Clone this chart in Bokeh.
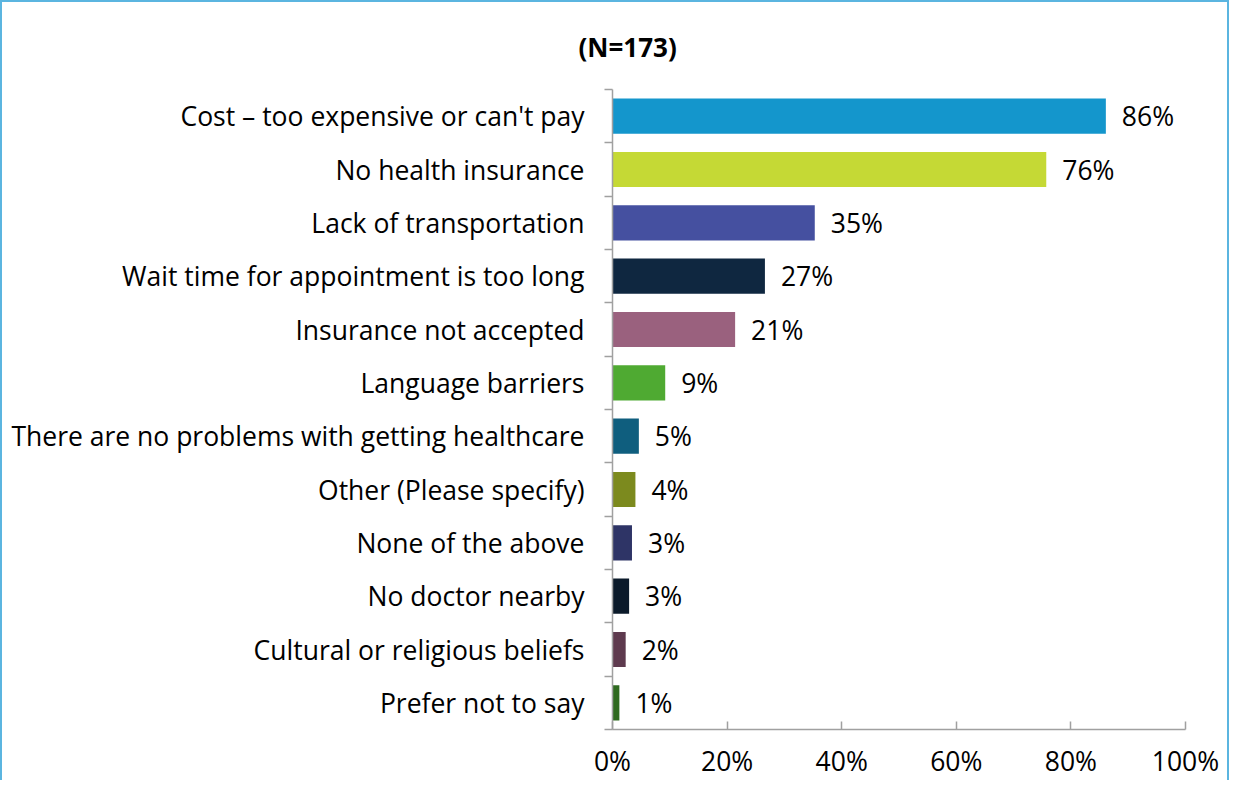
from bokeh.plotting import figure
from bokeh.models import Range1d, FixedTicker, PrintfTickFormatter, ColumnDataSource
from bokeh.core.properties import value
from bokeh.embed import file_html
from bokeh.resources import INLINE

categories = [
    "Cost \u2013 too expensive or can't pay",
    "No health insurance",
    "Lack of transportation",
    "Wait time for appointment is too long",
    "Insurance not accepted",
    "Language barriers",
    "There are no problems with getting healthcare",
    "Other (Please specify)",
    "None of the above",
    "No doctor nearby",
    "Cultural or religious beliefs",
    "Prefer not to say",
]
values = [86.1, 75.7, 35.3, 26.6, 21.4, 9.2, 4.6, 4.0, 3.4, 2.9, 2.3, 1.2]
labels = ["86%", "76%", "35%", "27%", "21%", "9%", "5%", "4%", "3%", "3%", "2%", "1%"]
colors = ["#1496CC", "#C5D935", "#4550A0", "#0F2740", "#9A617E", "#4FAA32",
          "#0F5E7E", "#7C8A1E", "#2E3466", "#0B1A2A", "#5E3A4E", "#2F6A20"]
x_ticks = [0, 20, 40, 60, 80, 100]
title_text = "(N=173)"

FONT = "Open Sans"
FS = "26.5px"
n = len(categories)
pos = list(range(n))

src = ColumnDataSource(dict(y=pos, v=values, lab=labels, c=colors))

p = figure(width=1229, height=780, output_backend="svg", toolbar_location=None,
           x_range=Range1d(0, 100), y_range=Range1d(n - 0.5, -0.5),
           min_border_left=610, min_border_right=46, min_border_top=87, min_border_bottom=53,
           title=title_text)
p.styles = {"border-left": "2px solid #5BB5E0", "border-top": "2px solid #5BB5E0",
            "border-right": "2px solid #5BB5E0"}
p.outline_line_color = None
p.grid.grid_line_color = None
p.background_fill_color = "white"
p.border_fill_color = "white"

p.title.text_font = FONT
p.title.text_font_size = "26px"
p.title.text_font_style = "bold"
p.title.text_color = "#000000"
p.title.align = "left"
p.title.vertical_align = "middle"
p.title.offset = -34
p.title.standoff = 48

p.hbar(y="y", left=0, right="v", height=0.66, fill_color="c", line_color=None, source=src)
p.text(x="v", y="y", text="lab", source=src, x_offset=16, text_baseline="middle",
       text_align="left", text_font=value(FONT), text_font_size=FS, text_color="#000000")

# y axis
ya = p.yaxis[0]
ya.ticker = FixedTicker(ticks=pos, minor_ticks=[i - 0.5 for i in range(n + 1)])
ya.major_label_overrides = {i: c for i, c in enumerate(categories)}
ya.major_tick_line_color = None
ya.minor_tick_out = 8
ya.minor_tick_in = 0
ya.minor_tick_line_color = "#A0A0A0"
ya.minor_tick_line_width = 1.5
ya.axis_line_color = "#A0A0A0"
ya.axis_line_width = 1.5
ya.major_label_text_font = FONT
ya.major_label_text_font_size = FS
ya.major_label_text_color = "#000000"
ya.major_label_standoff = 20

xa = p.xaxis[0]
xa.ticker = FixedTicker(ticks=x_ticks)
xa.formatter = PrintfTickFormatter(format="%d%%")
xa.major_tick_in = 8
xa.major_tick_out = 0
xa.minor_tick_line_color = None
xa.major_tick_line_color = "#A0A0A0"
xa.major_tick_line_width = 1.5
xa.axis_line_color = "#A0A0A0"
xa.axis_line_width = 1.5
xa.major_label_text_font = FONT
xa.major_label_text_font_size = FS
xa.major_label_text_color = "#000000"
xa.major_label_standoff = 13

open("out.html", "w").write(file_html(p, INLINE))
